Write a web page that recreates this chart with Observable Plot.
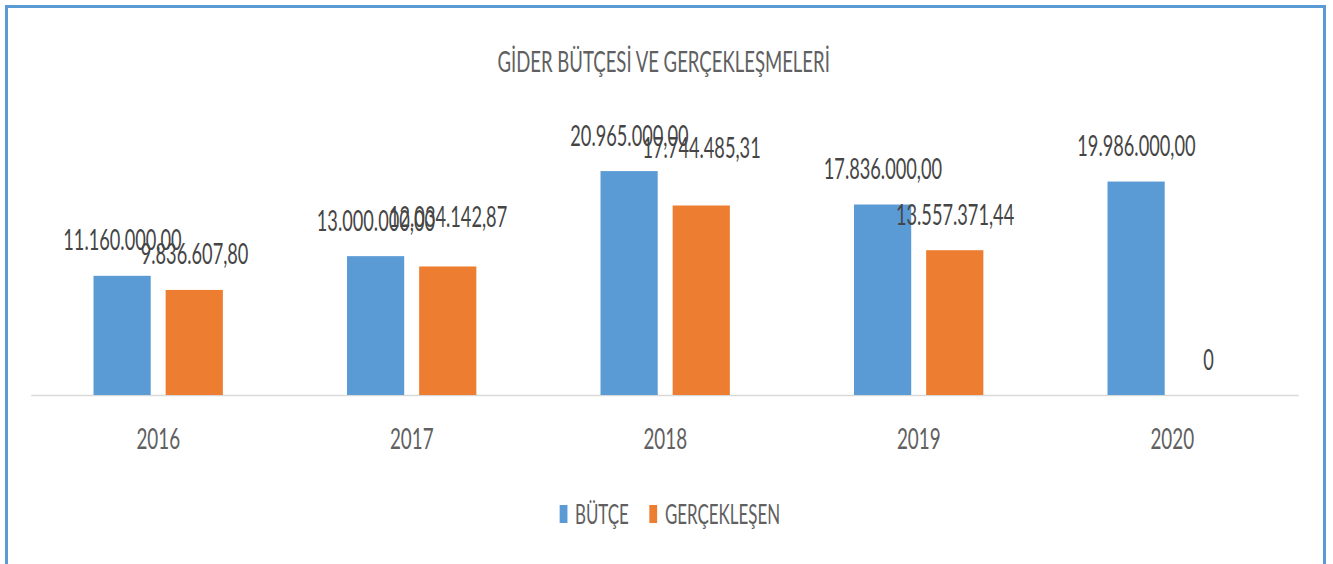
<!DOCTYPE html>
<html>
<head>
<meta charset="utf-8">
<script src="https://cdn.jsdelivr.net/npm/d3@7"></script>
<script src="https://cdn.jsdelivr.net/npm/@observablehq/plot@0.6"></script>
<style>
html, body { margin: 0; padding: 0; background: #fff; }
#page { position: relative; width: 1333px; height: 564px; overflow: hidden; background: #fff; }
#frame { position: absolute; left: 5px; top: 5px; width: 1315px; height: 620px; border: 3px solid #5B9BD5; border-bottom: none; }
#stage { position: absolute; left: 0; top: 0; width: 2051px; height: 564px; transform: scaleX(0.65); transform-origin: 0 0; font-family: Lato, "Open Sans", sans-serif; }
#chart { position: absolute; left: 0; top: 0; }
#title { position: absolute; left: 0; width: 2042px; top: 47px; text-align: center; font-size: 28.5px; line-height: 1; color: #606060; white-space: nowrap; }
.sw { position: absolute; top: 505px; width: 12.3px; height: 17.7px; }
.lt { position: absolute; top: 500.5px; font-size: 26px; line-height: 1; color: #606060; white-space: nowrap; }
</style>
</head>
<body>
<div id="page">
  <div id="frame"></div>
  <div id="stage">
    <div id="title">GİDER BÜTÇESİ VE GERÇEKLEŞMELERİ</div>
    <div id="chart"></div>
    <div id="legend"></div>
  </div>
</div>
<script>
const years = ["2016", "2017", "2018", "2019", "2020"];
const seriesNames = ["BÜTÇE", "GERÇEKLEŞEN"];
const butce = [11160000.00, 13000000.00, 20965000.00, 17836000.00, 19986000.00];
const gerceklesen = [9836607.80, 12034142.87, 17744485.31, 13557371.44, 0];
const colors = ["#5B9BD5", "#ED7D31"];

function fmt(v) {
  if (v === 0) return "0";
  const parts = v.toFixed(2).split(".");
  return parts[0].replace(/\B(?=(\d{3})+(?!\d))/g, ".") + "," + parts[1];
}

const data = years.flatMap((y, i) => [
  {year: y, series: seriesNames[0], value: butce[i]},
  {year: y, series: seriesNames[1], value: gerceklesen[i]}
]);

// in the reference the 2017 and 2018 GERÇEKLEŞEN labels sit higher than the others
const isOrange = d => d.series === seriesNames[1];
const raised17 = d => d.year === "2017" && isOrange(d);
const raised18 = d => d.year === "2018" && isOrange(d);
const labelStyle = {x: "series", y: "value", text: d => fmt(d.value), lineAnchor: "bottom", fontSize: 28, fill: "#454545"};

const chart = Plot.plot({
  width: 2051,
  height: 564,
  marginLeft: 46.15,
  marginRight: 50.77,
  marginTop: 128,
  marginBottom: 169,
  style: {fontFamily: "Lato, 'Open Sans', sans-serif", fontSize: "29px", color: "#606060", background: "transparent", overflow: "visible"},
  facet: {data: data, x: "year"},
  fx: {domain: years, padding: 0, axis: "bottom", tickSize: 0, tickPadding: 33, label: null},
  x: {domain: seriesNames, paddingInner: 0.207, paddingOuter: 0.855, axis: null},
  y: {domain: [0, 25e6], axis: null},
  color: {domain: seriesNames, range: colors},
  marks: [
    Plot.ruleY([0], {stroke: "#D9D9D9", strokeWidth: 1.5}),
    Plot.barY(data, {x: "series", y: "value", fill: "series"}),
    Plot.text(data, {...labelStyle, filter: d => !raised17(d) && !raised18(d), dy: -26}),
    Plot.text(data, {...labelStyle, filter: raised17, dy: -40}),
    Plot.text(data, {...labelStyle, filter: raised18, dy: -48})
  ]
});
document.getElementById("chart").appendChild(chart);

// legend
const legend = document.getElementById("legend");
const swLeft = [860.5, 998.9];
const txLeft = [884.6, 1023];
seriesNames.forEach((name, i) => {
  const sw = document.createElement("div");
  sw.className = "sw";
  sw.style.left = swLeft[i] + "px";
  sw.style.background = colors[i];
  legend.appendChild(sw);
  const t = document.createElement("div");
  t.className = "lt";
  t.style.left = txLeft[i] + "px";
  t.textContent = name;
  legend.appendChild(t);
});
</script>
</body>
</html>
